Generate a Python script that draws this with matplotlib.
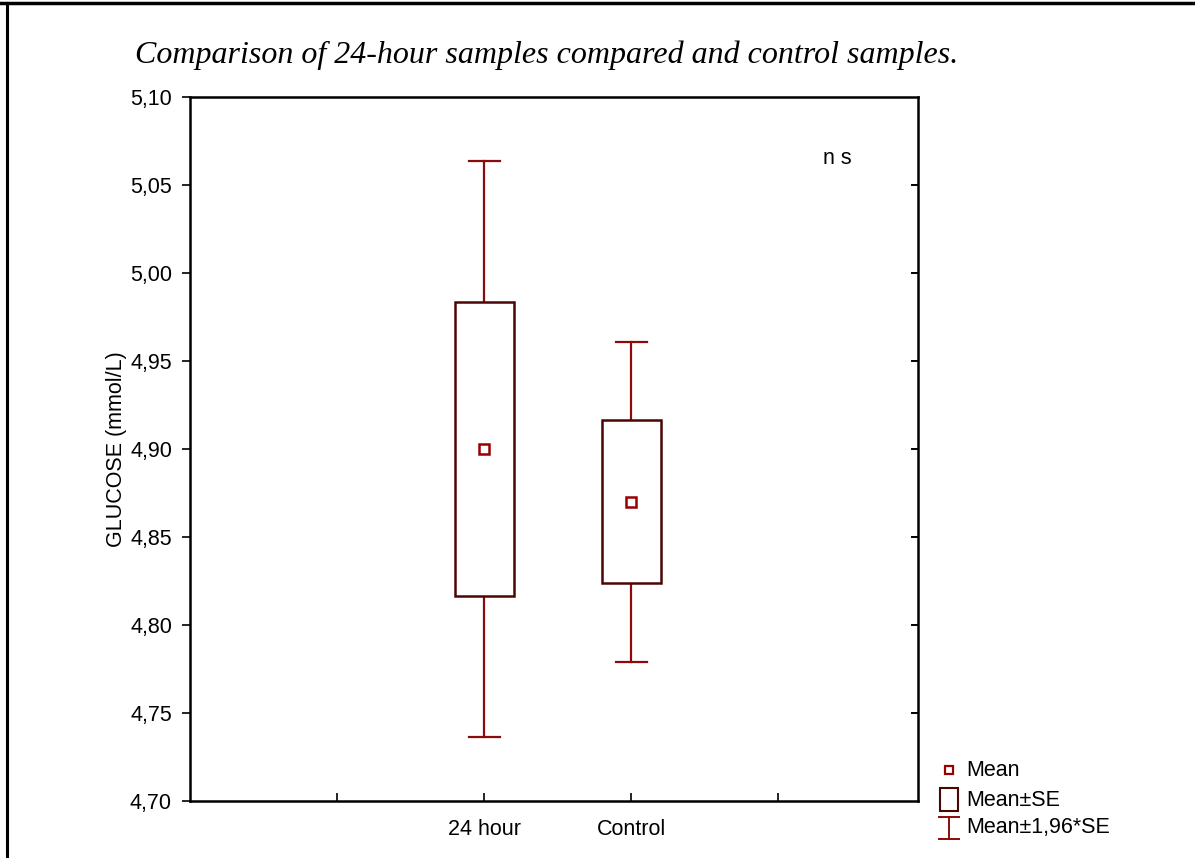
import matplotlib
matplotlib.use("Agg")
import matplotlib.pyplot as plt
from matplotlib.patches import Rectangle
from matplotlib.lines import Line2D

# ---- data ----
categories = ["24 hour", "Control"]
means = [4.900, 4.870]
se = [0.0835, 0.0463]
ci_factor = 1.96
tick_labels_y = ["4,70", "4,75", "4,80", "4,85", "4,90", "4,95", "5,00", "5,05", "5,10"]
y_ticks = [4.70, 4.75, 4.80, 4.85, 4.90, 4.95, 5.00, 5.05, 5.10]

W, H = 1195, 858
fig = plt.figure(figsize=(W / 100, H / 100), dpi=100)
ax = fig.add_axes([190 / W, 1 - 801 / H, (918 - 190) / W, (801 - 97) / H])

sans = "Liberation Sans"
fs = 15.5
whisk_c = "#8b0a0a"
box_c = "#4a0505"
mean_c = "#990000"

positions = [2, 3]
box_w = 0.40
cap_w = 0.21
for x, m, s in zip(positions, means, se):
    lo, hi = m - s, m + s
    clo, chi = m - ci_factor * s, m + ci_factor * s
    ax.plot([x, x], [clo, lo], color=whisk_c, lw=1.6, zorder=2)
    ax.plot([x, x], [hi, chi], color=whisk_c, lw=1.6, zorder=2)
    ax.plot([x - cap_w / 2, x + cap_w / 2], [clo, clo], color=whisk_c, lw=1.6, zorder=2)
    ax.plot([x - cap_w / 2, x + cap_w / 2], [chi, chi], color=whisk_c, lw=1.6, zorder=2)
    ax.add_patch(Rectangle((x - box_w / 2, lo), box_w, hi - lo, facecolor="white",
                           edgecolor=box_c, lw=1.8, zorder=3))
    ax.plot([x], [m], marker="s", ms=6.5, mfc="white", mec=mean_c, mew=1.8, zorder=4)

ax.set_xlim(0, 4.95)
ax.set_ylim(4.70, 5.10)
ax.set_yticks(y_ticks)
ax.set_yticklabels(tick_labels_y, fontfamily=sans, fontsize=fs)
ax.set_xticks([1, 2, 3, 4])
ax.set_xticklabels(["", categories[0], categories[1], ""], fontfamily=sans, fontsize=fs)
ax.tick_params(axis="y", which="both", direction="out", length=6, width=1.2, left=True, right=False, pad=7)
ax.tick_params(axis="x", direction="in", length=6, width=1.2, pad=13)
# right-side inner ticks
for yt in y_ticks[1:-1]:
    ax.plot([4.95 - 0.04, 4.95], [yt, yt], color="black", lw=1.4, clip_on=False, zorder=5)

for sp in ax.spines.values():
    sp.set_linewidth(1.8)
    sp.set_color("black")

ax.set_ylabel("GLUCOSE (mmol/L)", fontfamily=sans, fontsize=fs, labelpad=2)
ax.text(4.40, 5.0653, "n s", fontfamily=sans, fontsize=fs, ha="center", va="center")

fig.text(135 / W, 1 - 55 / H, "Comparison of 24-hour samples compared and control samples.",
         fontfamily="Liberation Serif", style="italic", fontsize=23, ha="left", va="center")

# figure border lines (top and left)
fig.add_artist(Line2D([0, 1], [1 - 3 / H, 1 - 3 / H], color="black", lw=2.5, transform=fig.transFigure))
fig.add_artist(Line2D([7 / W, 7 / W], [0, 1 - 3 / H], color="black", lw=2.2, transform=fig.transFigure))

# legend (drawn in figure pixel coords)
def fx(px):
    return px / W
def fy(py):
    return 1 - py / H

fig.add_artist(Line2D([fx(949)], [fy(770)], marker="s", ms=5.5, mfc="white", mec=mean_c, mew=1.6,
                      linestyle="none", transform=fig.transFigure))
fig.add_artist(Rectangle((fx(940), fy(811)), fx(958) - fx(940), fy(788) - fy(811), facecolor="white",
                         edgecolor=box_c, lw=1.5, transform=fig.transFigure))
fig.add_artist(Line2D([fx(949), fx(949)], [fy(817), fy(839)], color=whisk_c, lw=1.4, transform=fig.transFigure))
fig.add_artist(Line2D([fx(939), fx(959)], [fy(817), fy(817)], color=whisk_c, lw=1.4, transform=fig.transFigure))
fig.add_artist(Line2D([fx(939), fx(959)], [fy(839), fy(839)], color=whisk_c, lw=1.4, transform=fig.transFigure))
for txt, py in [("Mean", 771), ("Mean±SE", 800), ("Mean±1,96*SE", 828)]:
    fig.text(fx(966), fy(py), txt, fontfamily=sans, fontsize=fs, ha="left", va="center")

fig.savefig("out.png", dpi=100, facecolor="white")
